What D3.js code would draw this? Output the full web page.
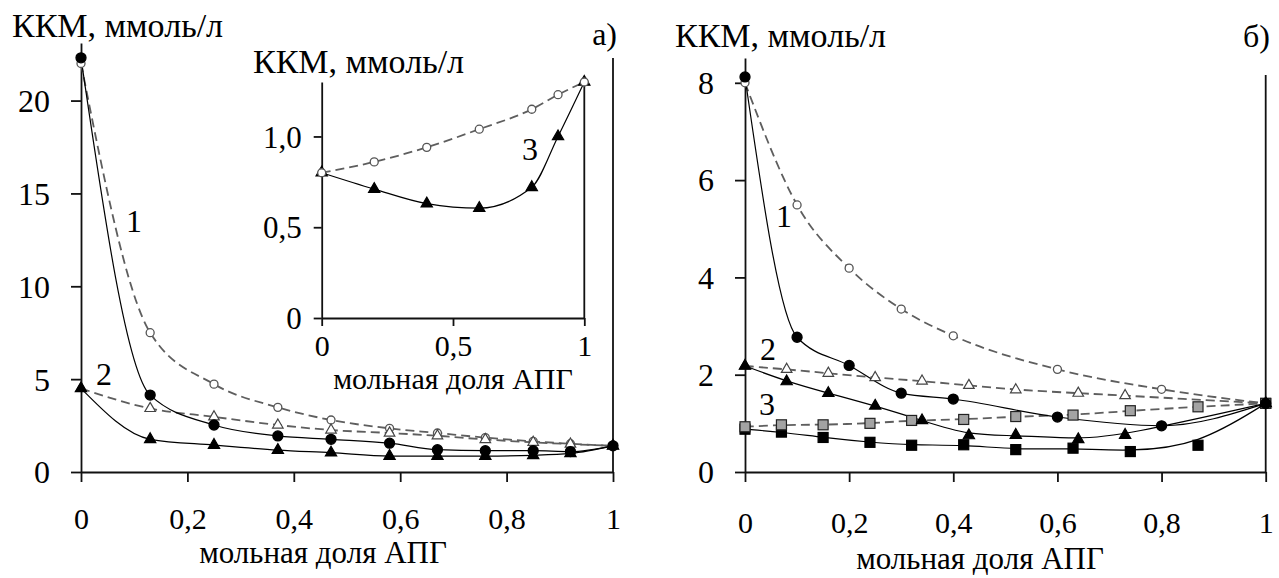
<!DOCTYPE html>
<html>
<head>
<meta charset="utf-8">
<script src="https://cdn.jsdelivr.net/npm/d3@7"></script>
<style>
body { margin: 0; background: #fff; }
svg { display: block; }
</style>
</head>
<body>
<script>
const FONT = "'Liberation Serif', 'Times New Roman', serif";

// --- panel а), main plot
const leftX = [0, 0.13, 0.25, 0.37, 0.47, 0.58, 0.67, 0.76, 0.85, 0.92, 1];
const left1Dashed = [22.0, 7.5, 4.73, 3.48, 2.80, 2.35, 2.1, 1.85, 1.65, 1.52, 1.41];
const left1Solid = [22.3, 4.14, 2.53, 1.94, 1.76, 1.55, 1.2, 1.15, 1.15, 1.1, 1.41];
const left2Dashed = [4.5, 3.42, 2.97, 2.53, 2.26, 2.1, 1.95, 1.75, 1.6, 1.5, 1.41];
const left2Solid = [4.5, 1.76, 1.45, 1.18, 1.04, 0.86, 0.86, 0.86, 0.9, 1.0, 1.41];
const leftYTicks = [0, 5, 10, 15, 20];
const leftXTicks = [0, 0.2, 0.4, 0.6, 0.8, 1];
const leftXTickLabels = ["0", "0,2", "0,4", "0,6", "0,8", "1"];

// --- panel а), inset
const insetX = [0, 0.2, 0.4, 0.6, 0.8, 0.9, 1];
const inset3Dashed = [0.80, 0.86, 0.94, 1.04, 1.15, 1.23, 1.30];
const inset3Solid = [0.80, 0.71, 0.63, 0.605, 0.72, 1.0, 1.30];
const insetYTicks = [0, 0.5, 1.0];
const insetYTickLabels = ["0", "0,5", "1,0"];
const insetXTicks = [0, 0.5, 1];
const insetXTickLabels = ["0", "0,5", "1"];

// --- panel б)
const right1X = [0, 0.1, 0.2, 0.3, 0.4, 0.6, 0.8, 1];
const right1Dashed = [8.0, 5.49, 4.19, 3.35, 2.80, 2.11, 1.70, 1.41];
const right1Solid = [8.12, 2.77, 2.19, 1.62, 1.50, 1.13, 0.95, 1.41];
const right2X = [0, 0.08, 0.16, 0.25, 0.34, 0.43, 0.52, 0.64, 0.73, 1];
const right2Dashed = [2.18, 2.11, 2.03, 1.94, 1.87, 1.78, 1.69, 1.62, 1.57, 1.41];
const right2Solid = [2.18, 1.86, 1.62, 1.36, 1.06, 0.75, 0.76, 0.67, 0.76, 1.41];
const right3X = [0, 0.07, 0.15, 0.24, 0.32, 0.42, 0.52, 0.63, 0.74, 0.87, 1];
const right3Dashed = [0.93, 0.97, 0.97, 1.0, 1.06, 1.08, 1.14, 1.17, 1.26, 1.34, 1.41];
const right3Solid = [0.88, 0.82, 0.71, 0.61, 0.55, 0.56, 0.46, 0.49, 0.42, 0.55, 1.41];
const rightYTicks = [0, 2, 4, 6, 8];
const rightXTicks = [0, 0.2, 0.4, 0.6, 0.8, 1];
const rightXTickLabels = ["0", "0,2", "0,4", "0,6", "0,8", "1"];

const svg = d3.select("body").append("svg")
    .attr("width", 1279)
    .attr("height", 578)
    .style("font-family", FONT);

function zip(xs, vs) { return xs.map((x, i) => [x, vs[i]]); }

function drawAxes(g, x, y, o) {
    const gy = g.append("g")
        .attr("transform", `translate(${x(0)},0)`)
        .call(d3.axisLeft(y).tickValues(o.yTicks).tickFormat((d, i) => o.yLabels[i])
            .tickSize(o.tick).tickSizeOuter(0).tickPadding(o.yPad));
    const gx = g.append("g")
        .attr("transform", `translate(0,${y(0)})`)
        .call(d3.axisBottom(x).tickValues(o.xTicks).tickFormat((d, i) => o.xLabels[i])
            .tickSize(o.tick).tickSizeOuter(0));
    gy.attr("font-size", o.yfs);
    gx.attr("font-size", o.xfs);
    [gy, gx].forEach(a => {
        a.attr("font-family", FONT);
        a.selectAll("path, line").attr("stroke", "#111").attr("stroke-width", 1.8);
        a.selectAll("text").attr("fill", "#000");
    });
    gy.selectAll("text").attr("dy", "0.34em");
    gx.selectAll("text").attr("y", o.xLabY).attr("dy", 0);
    // right-hand frame line at x = 1
    g.append("line")
        .attr("x1", x(1)).attr("x2", x(1))
        .attr("y1", o.frameTop).attr("y2", y(0))
        .attr("stroke", "#111").attr("stroke-width", 1.8);
}

function drawSeries(g, x, y, list) {
    list.forEach(s => {
        const line = d3.line()
            .x(d => x(d[0])).y(d => y(d[1]))
            .curve(s.curve || d3.curveMonotoneX);
        g.append("path")
            .datum(zip(s.x, s.v))
            .attr("d", line)
            .attr("fill", "none")
            .attr("stroke", s.dash ? "#5e5e5e" : "#000")
            .attr("stroke-width", s.dash ? 1.8 : 1.2)
            .attr("stroke-dasharray", s.dash ? "9,5" : null);
    });
    list.forEach(s => {
        const pts = zip(s.x, s.v);
        const m = g.append("g");
        if (s.mark === "circleOpen" || s.mark === "circleFilled") {
            m.selectAll("circle").data(pts).join("circle")
                .attr("cx", d => x(d[0])).attr("cy", d => y(d[1]))
                .attr("r", s.mark === "circleOpen" ? 4 : 5)
                .attr("fill", s.mark === "circleOpen" ? "#fff" : "#000")
                .attr("stroke", s.mark === "circleOpen" ? "#555" : "#000")
                .attr("stroke-width", 1.3);
        } else if (s.mark === "triOpen" || s.mark === "triFilled") {
            const open = s.mark === "triOpen";
            m.selectAll("path").data(pts).join("path")
                .attr("transform", d => `translate(${x(d[0])},${y(d[1])})`)
                .attr("d", d3.symbol(d3.symbolTriangle, open ? 48 : 55))
                .attr("fill", open ? "#fff" : "#000")
                .attr("stroke", open ? "#444" : "#000")
                .attr("stroke-width", 1.2);
        } else {
            const gray = s.mark === "sqGray";
            m.selectAll("rect").data(pts).join("rect")
                .attr("x", d => x(d[0]) - 5).attr("y", d => y(d[1]) - 5)
                .attr("width", 10).attr("height", 10)
                .attr("fill", gray ? "#a3a3a3" : "#000")
                .attr("stroke", gray ? "#222" : "#000")
                .attr("stroke-width", 1.2);
        }
    });
}

function label(g, txt, x, y, anchor, fs) {
    g.append("text").attr("x", x).attr("y", y)
        .attr("text-anchor", anchor || "start")
        .attr("font-size", fs || 32)
        .attr("fill", "#000")
        .text(txt);
}

// ---------- panel а)
const gL = svg.append("g");
const xL = d3.scaleLinear().domain([0, 1]).range([81, 613]);
const yL = d3.scaleLinear().domain([0, 23.1]).range([472, 43]);
drawAxes(gL, xL, yL, {
    yTicks: leftYTicks, yLabels: leftYTicks.map(String),
    xTicks: leftXTicks, xLabels: leftXTickLabels,
    tick: 10, yPad: 21, xLabY: 57, yfs: 32, xfs: 30, frameTop: 58
});
drawSeries(gL, xL, yL, [
    { x: leftX, v: left1Dashed, dash: true, mark: "circleOpen" },
    { x: leftX, v: left2Dashed, dash: true, mark: "triOpen" },
    { x: leftX, v: left2Solid, dash: false, mark: "triFilled" },
    { x: leftX, v: left1Solid, dash: false, mark: "circleFilled" }
]);
label(gL, "ККМ, ммоль/л", 12, 37, "start", 34);
label(gL, "а)", 617, 45, "end");
label(gL, "мольная доля АПГ", 323, 563, "middle", 31);
label(gL, "1", 134, 232, "middle");
label(gL, "2", 104, 385, "middle");

// ---------- inset
const gI = svg.append("g");
const xI = d3.scaleLinear().domain([0, 1]).range([321.7, 584.3]);
const yI = d3.scaleLinear().domain([0, 1.3]).range([318, 82]);
drawAxes(gI, xI, yI, {
    yTicks: insetYTicks, yLabels: insetYTickLabels,
    xTicks: insetXTicks, xLabels: insetXTickLabels,
    tick: 8, yPad: 12, xLabY: 38, yfs: 31, xfs: 30, frameTop: 82
});
drawSeries(gI, xI, yI, [
    { x: insetX, v: inset3Solid, dash: false, mark: "triFilled" },
    { x: insetX, v: inset3Dashed, dash: true, mark: "circleOpen" }
]);
label(gI, "ККМ, ммоль/л", 253, 73, "start", 34);
label(gI, "мольная доля АПГ", 453, 389, "middle", 30);
label(gI, "3", 530, 160, "middle");

// ---------- panel б)
const gR = svg.append("g");
const xR = d3.scaleLinear().domain([0, 1]).range([745, 1265.7]);
const yR = d3.scaleLinear().domain([0, 8.51]).range([472, 58]);
drawAxes(gR, xR, yR, {
    yTicks: rightYTicks, yLabels: rightYTicks.map(String),
    xTicks: rightXTicks, xLabels: rightXTickLabels,
    tick: 10, yPad: 21, xLabY: 61, yfs: 32, xfs: 30, frameTop: 75
});
drawSeries(gR, xR, yR, [
    { x: right1X, v: right1Dashed, dash: true, mark: "circleOpen" },
    { x: right2X, v: right2Dashed, dash: true, mark: "triOpen", curve: d3.curveBasis },
    { x: right3X, v: right3Solid, dash: false, mark: "sqFilled", curve: d3.curveBasis },
    { x: right3X, v: right3Dashed, dash: true, mark: "sqGray", curve: d3.curveBasis },
    { x: right2X, v: right2Solid, dash: false, mark: "triFilled", curve: d3.curveBasis },
    { x: right1X, v: right1Solid, dash: false, mark: "circleFilled" }
]);
label(gR, "ККМ, ммоль/л", 675, 47, "start", 34);
label(gR, "б)", 1270, 47, "end");
label(gR, "мольная доля АПГ", 980, 569, "middle", 31);
label(gR, "1", 784, 227, "middle");
label(gR, "2", 768, 360, "middle");
label(gR, "3", 767, 415, "middle");
</script>
</body>
</html>
